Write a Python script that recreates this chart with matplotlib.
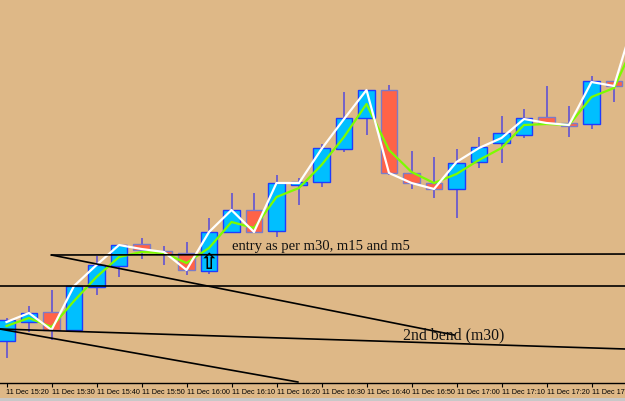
import numpy as np
import matplotlib
matplotlib.use('Agg')
import matplotlib.pyplot as plt
from matplotlib.patches import Rectangle

# Candle data (5-minute bars, price in screen units, top = high)
opens  = [341, 322, 312, 330, 287, 266, 244, 251, 253, 271, 232, 210, 231, 185,
          182, 149, 118, 90, 173, 183, 189, 162, 143, 135, 117, 123, 124, 81, 86]
highs  = [318, 306, 290, 285, 256, 244, 238, 246, 242, 218, 193, 193, 175, 178,
          144, 92, 90, 85, 151, 157, 149, 137, 116, 109, 86, 106, 76, 81, 5]
lows   = [358, 332, 340, 332, 295, 277, 259, 265, 275, 274, 233, 232, 237, 205,
          187, 152, 135, 175, 189, 198, 218, 168, 163, 138, 123, 137, 129, 102, 90]
closes = [320, 313, 330, 286, 265, 245, 250, 254, 270, 232, 210, 232, 183, 182,
          148, 118, 90, 173, 183, 189, 163, 147, 133, 118, 123, 126, 81, 86, 12]

# moving averages (white fast, green slow)
fast_ma = [322, 313, 330, 286, 265, 245, 249, 252, 270, 232, 210, 232, 183, 183,
           149, 119, 90, 173, 183, 189, 162, 148, 138, 119, 123, 125, 82, 86, 12]
slow_ma = [326, 318, 327, 301, 277, 257, 252, 253, 263, 248, 222, 228, 197, 188,
           165, 137, 104, 150, 172, 183, 174, 160, 148, 125, 124, 125, 97, 88, 39]

tick_pos = list(range(0, 28, 2))
tick_labels = ['11 Dec 15:20', '11 Dec 15:30', '11 Dec 15:40', '11 Dec 15:50',
               '11 Dec 16:00', '11 Dec 16:10', '11 Dec 16:20', '11 Dec 16:30',
               '11 Dec 16:40', '11 Dec 16:50', '11 Dec 17:00', '11 Dec 17:10',
               '11 Dec 17:20', '11 Dec 17:30']

# hand-drawn trend lines: (bar index, price) endpoints
trend_lines = [
    ([2.0, 28.0], [255, 254]),     # entry level
    ([2.0, 19.9], [255, 335]),     # diagonal down
    ([-1.0, 28.0], [286, 286]),    # horizontal level
    ([-0.3, 27.5], [329, 349]),    # 2nd bend
    ([-0.3, 12.95], [329, 382]),   # steep line
]

bg = '#DEB887'
fig = plt.figure(figsize=(6.25, 4.01), dpi=100, facecolor=bg)
ax = fig.add_axes([0, 18 / 401, 1, 383 / 401])
ax.set_facecolor(bg)

x = np.arange(len(opens))
o = np.array(opens)
c = np.array(closes)
bull = c < o  # screen units: smaller = higher price

# wicks
ax.vlines(x, highs, lows, color='#6A5ACD', lw=1.3, zorder=2)

# bodies
bottom = np.minimum(o, c)
height = np.maximum(np.abs(o - c), 1)
ax.bar(x[bull], height[bull], bottom=bottom[bull], width=0.74,
       color='#00BFFF', edgecolor='#1E3CFF', linewidth=1.0, zorder=3)
ax.bar(x[~bull], height[~bull], bottom=bottom[~bull], width=0.74,
       color='#FF6347', edgecolor='#7B7BC8', linewidth=1.0, zorder=3)

# MAs
ax.plot(x, slow_ma, color='#7CFC00', lw=1.6, zorder=4)
ax.plot(x, fast_ma, color='white', lw=1.6, zorder=5)

# trend lines
for tx, ty in trend_lines:
    ax.plot(tx, ty, color='black', lw=1.2, zorder=6)

# entry arrow on the 16:05 bar
ax.text(9, 263, '\u21e7', fontsize=16, ha='center', va='center',
        color='black', family='DejaVu Sans', fontweight='bold', zorder=7)

ax.text(10.02, 250, 'entry as per m30, m15 and m5', family='Liberation Serif',
        fontsize=10.5, color='#111111', ha='left', va='baseline', zorder=7)
ax.text(17.62, 339, '2nd bend (m30)', family='Liberation Serif',
        fontsize=11.3, color='#111111', ha='left', va='baseline', zorder=7)

ax.set_xlim(-6.5 / 22.5, (625 - 6.5) / 22.5)
ax.set_ylim(383, 0)
ax.set_yticks([])
ax.set_xticks(tick_pos)
ax.set_xticklabels(tick_labels, family='Liberation Sans', fontsize=5.2)
for lbl in ax.get_xticklabels():
    lbl.set_horizontalalignment('left')
ax.tick_params(axis='x', direction='out', length=3, width=0.8, pad=1.5, colors='black')
for s in ['top', 'left', 'right']:
    ax.spines[s].set_visible(False)
ax.spines['bottom'].set_linewidth(1.0)

# window border strip at the bottom
fig.patches.append(Rectangle((0, 0), 1, 3.5 / 401, transform=fig.transFigure,
                             facecolor='#C8C8C8', edgecolor='none'))

fig.savefig('out.png', dpi=100, facecolor=bg)
